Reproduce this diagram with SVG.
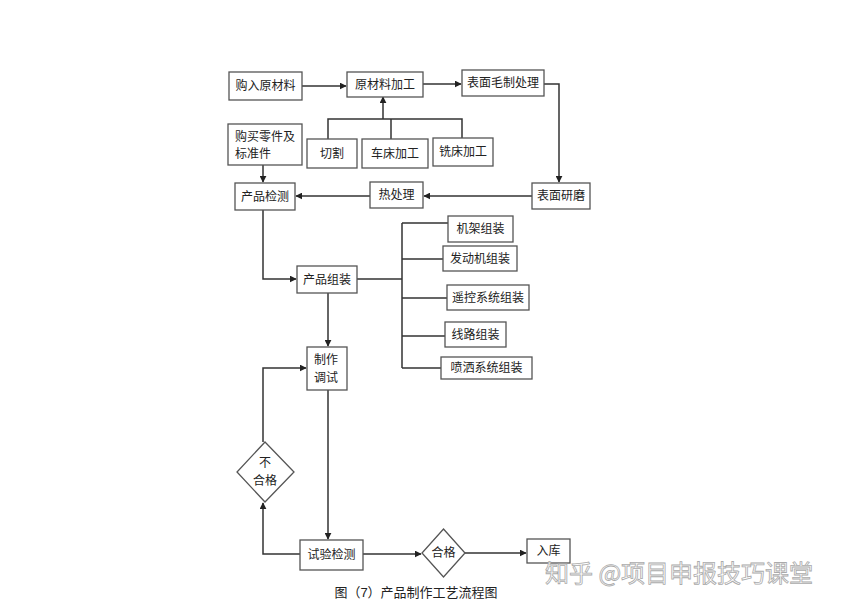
<svg xmlns="http://www.w3.org/2000/svg" width="841" height="605" viewBox="0 0 841 605">
<style>
.b{fill:#fff;stroke:#555;stroke-width:1.3}
.t{font-family:"Liberation Sans","Noto Sans CJK SC",sans-serif;font-size:12px;fill:#222;text-anchor:middle;dominant-baseline:central}
.c{fill:none;stroke:#333;stroke-width:1.5}
</style>
<defs>
<marker id="a" viewBox="0 0 10 10" refX="9" refY="5" markerWidth="7" markerHeight="7" markerUnits="userSpaceOnUse" orient="auto"><path d="M0,0L10,5L0,10z" fill="#222"/></marker>
</defs>
<rect width="841" height="605" fill="#fff"/>
<g id="connectors">
<path class="c" d="M302,86H346" marker-end="url(#a)"/>
<path class="c" d="M423,84H461" marker-end="url(#a)"/>
<path class="c" d="M544,84H559V182" marker-end="url(#a)"/>
<path class="c" d="M328,139V119H462V138M391,119V139M383,119V97" marker-end="url(#a)"/>
<path class="c" d="M532,196H424" marker-end="url(#a)"/>
<path class="c" d="M370,196H296" marker-end="url(#a)"/>
<path class="c" d="M263,165V182" marker-end="url(#a)"/>
<path class="c" d="M263,210V279H296" marker-end="url(#a)"/>
<path class="c" d="M357,279H402M402,223V368M402,223H448M402,259H443M402,298H447M402,336H445M402,368H441"/>
<path class="c" d="M328,293V346" marker-end="url(#a)"/>
<path class="c" d="M328,390V539" marker-end="url(#a)"/>
<path class="c" d="M300,554H263V503" marker-end="url(#a)"/>
<path class="c" d="M263,442V368H306" marker-end="url(#a)"/>
<path class="c" d="M363,554H421" marker-end="url(#a)"/>
<path class="c" d="M465,553H526" marker-end="url(#a)"/>
</g>
<g id="n1"><rect class="b" x="229" y="72" width="73" height="28"/><text class="t" x="265.5" y="86">购入原材料</text></g>
<g id="n2"><rect class="b" x="347" y="72" width="76" height="25"/><text class="t" x="385" y="84.5">原材料加工</text></g>
<g id="n3"><rect class="b" x="462" y="70" width="82" height="26"/><text class="t" x="503" y="83">表面毛制处理</text></g>
<g id="n4"><rect class="b" x="228" y="124" width="74" height="41"/><text class="t" x="265" y="137">购买零件及</text><text class="t" x="253" y="154">标准件</text></g>
<g id="n5"><rect class="b" x="307" y="139" width="50" height="29"/><text class="t" x="332" y="153.5">切割</text></g>
<g id="n6"><rect class="b" x="362" y="139" width="66" height="29"/><text class="t" x="395" y="153.5">车床加工</text></g>
<g id="n7"><rect class="b" x="433" y="138" width="60" height="28"/><text class="t" x="463" y="152">铣床加工</text></g>
<g id="n8"><rect class="b" x="532" y="183" width="58" height="26"/><text class="t" x="561" y="196">表面研磨</text></g>
<g id="n9"><rect class="b" x="370" y="182" width="53" height="26"/><text class="t" x="396.5" y="195">热处理</text></g>
<g id="n10"><rect class="b" x="235" y="183" width="60" height="27"/><text class="t" x="265" y="196.5">产品检测</text></g>
<g id="n11"><rect class="b" x="297" y="266" width="60" height="27"/><text class="t" x="327" y="279.5">产品组装</text></g>
<g id="n12"><rect class="b" x="448" y="216" width="65" height="26"/><text class="t" x="480.5" y="229">机架组装</text></g>
<g id="n13"><rect class="b" x="443" y="246" width="74" height="25"/><text class="t" x="480" y="258.5">发动机组装</text></g>
<g id="n14"><rect class="b" x="447" y="285" width="82" height="25"/><text class="t" x="488" y="297.5">遥控系统组装</text></g>
<g id="n15"><rect class="b" x="445" y="322" width="61" height="25"/><text class="t" x="475.5" y="334.5">线路组装</text></g>
<g id="n16"><rect class="b" x="441" y="357" width="91" height="22"/><text class="t" x="486.5" y="368">喷洒系统组装</text></g>
<g id="n17"><rect class="b" x="307" y="347" width="40" height="43"/><text class="t" x="326" y="360">制作</text><text class="t" x="326" y="378">调试</text></g>
<g id="n18"><rect class="b" x="300" y="540" width="63" height="30"/><text class="t" x="331.5" y="555">试验检测</text></g>
<g id="n19"><path class="b" d="M265,442L294,472L265,502L237,472z"/><text class="t" x="265" y="463">不</text><text class="t" x="265" y="481">合格</text></g>
<g id="n20"><path class="b" d="M443.5,529L465,553L443.5,577L422,553z"/><text class="t" x="443.5" y="553">合格</text></g>
<g id="n21"><rect class="b" x="527" y="539" width="43" height="24"/><text class="t" x="548.5" y="551">入库</text></g>
<text x="416" y="592" font-family="Liberation Sans,'Noto Sans CJK SC',sans-serif" font-size="13" fill="#222" text-anchor="middle" dominant-baseline="central">图（7）产品制作工艺流程图</text>
<text x="545" y="571" font-family="'Noto Sans CJK SC',sans-serif" font-size="24" fill="#fff" stroke="#aaa" stroke-width="0.8" dominant-baseline="central">知乎 @项目申报技巧课堂</text>
</svg>
